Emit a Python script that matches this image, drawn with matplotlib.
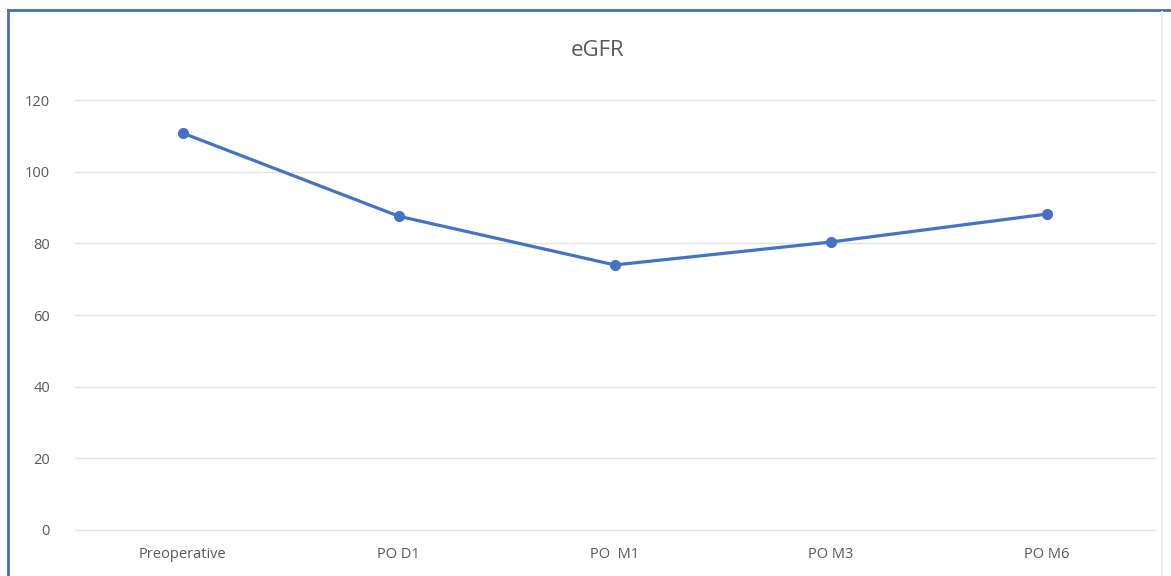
import matplotlib

matplotlib.use("Agg")
import matplotlib.pyplot as plt
from matplotlib.lines import Line2D

categories = ["Preoperative", "PO D1", "PO  M1", "PO M3", "PO M6"]
egfr = [110.8, 87.6, 74.0, 80.4, 88.2]
y_ticks = [0, 20, 40, 60, 80, 100, 120]

LINE_BLUE = "#4472C4"
TEXT_GREY = "#595959"
GRID_GREY = "#e3e3e3"

plt.rcParams["font.family"] = ["Open Sans", "DejaVu Sans"]

fig = plt.figure(figsize=(11.71, 5.76), dpi=100)
ax = fig.add_axes([0.064, 0.080, 0.922, 0.746])

x = list(range(len(categories)))
ax.plot(x, egfr, color=LINE_BLUE, linewidth=2.3, marker="o", markersize=7,
        solid_capstyle="round", zorder=3)

ax.set_xlim(-0.5, len(categories) - 0.5)
ax.set_ylim(0, 120)
ax.set_yticks(y_ticks)
ax.set_yticklabels([str(v) for v in y_ticks])
ax.set_xticks(x)
ax.set_xticklabels(categories)
ax.tick_params(axis="both", length=0, labelsize=10.5, labelcolor=TEXT_GREY)
ax.tick_params(axis="y", pad=18)
ax.tick_params(axis="x", pad=12)
ax.grid(axis="y", color=GRID_GREY, linewidth=1.0)
for gl in ax.get_ygridlines():
    gl.set_clip_on(False)
ax.set_axisbelow(True)
for spine in ax.spines.values():
    spine.set_visible(False)

fig.text(0.51, 0.913, "eGFR", ha="center", va="center", fontsize=16, color=TEXT_GREY)

# frame around the chart area
fig.add_artist(Line2D([0.0068, 0.0068], [0.0, 0.983], color="#4a6fae", linewidth=2.0))
fig.add_artist(Line2D([0.0068, 1.0], [0.983, 0.983], color="#4a6fae", linewidth=2.0))
fig.add_artist(Line2D([0.9925, 0.9925], [0.0, 0.98], color="#ececec", linewidth=1.5))

fig.savefig("out.png", dpi=100, facecolor="white")
